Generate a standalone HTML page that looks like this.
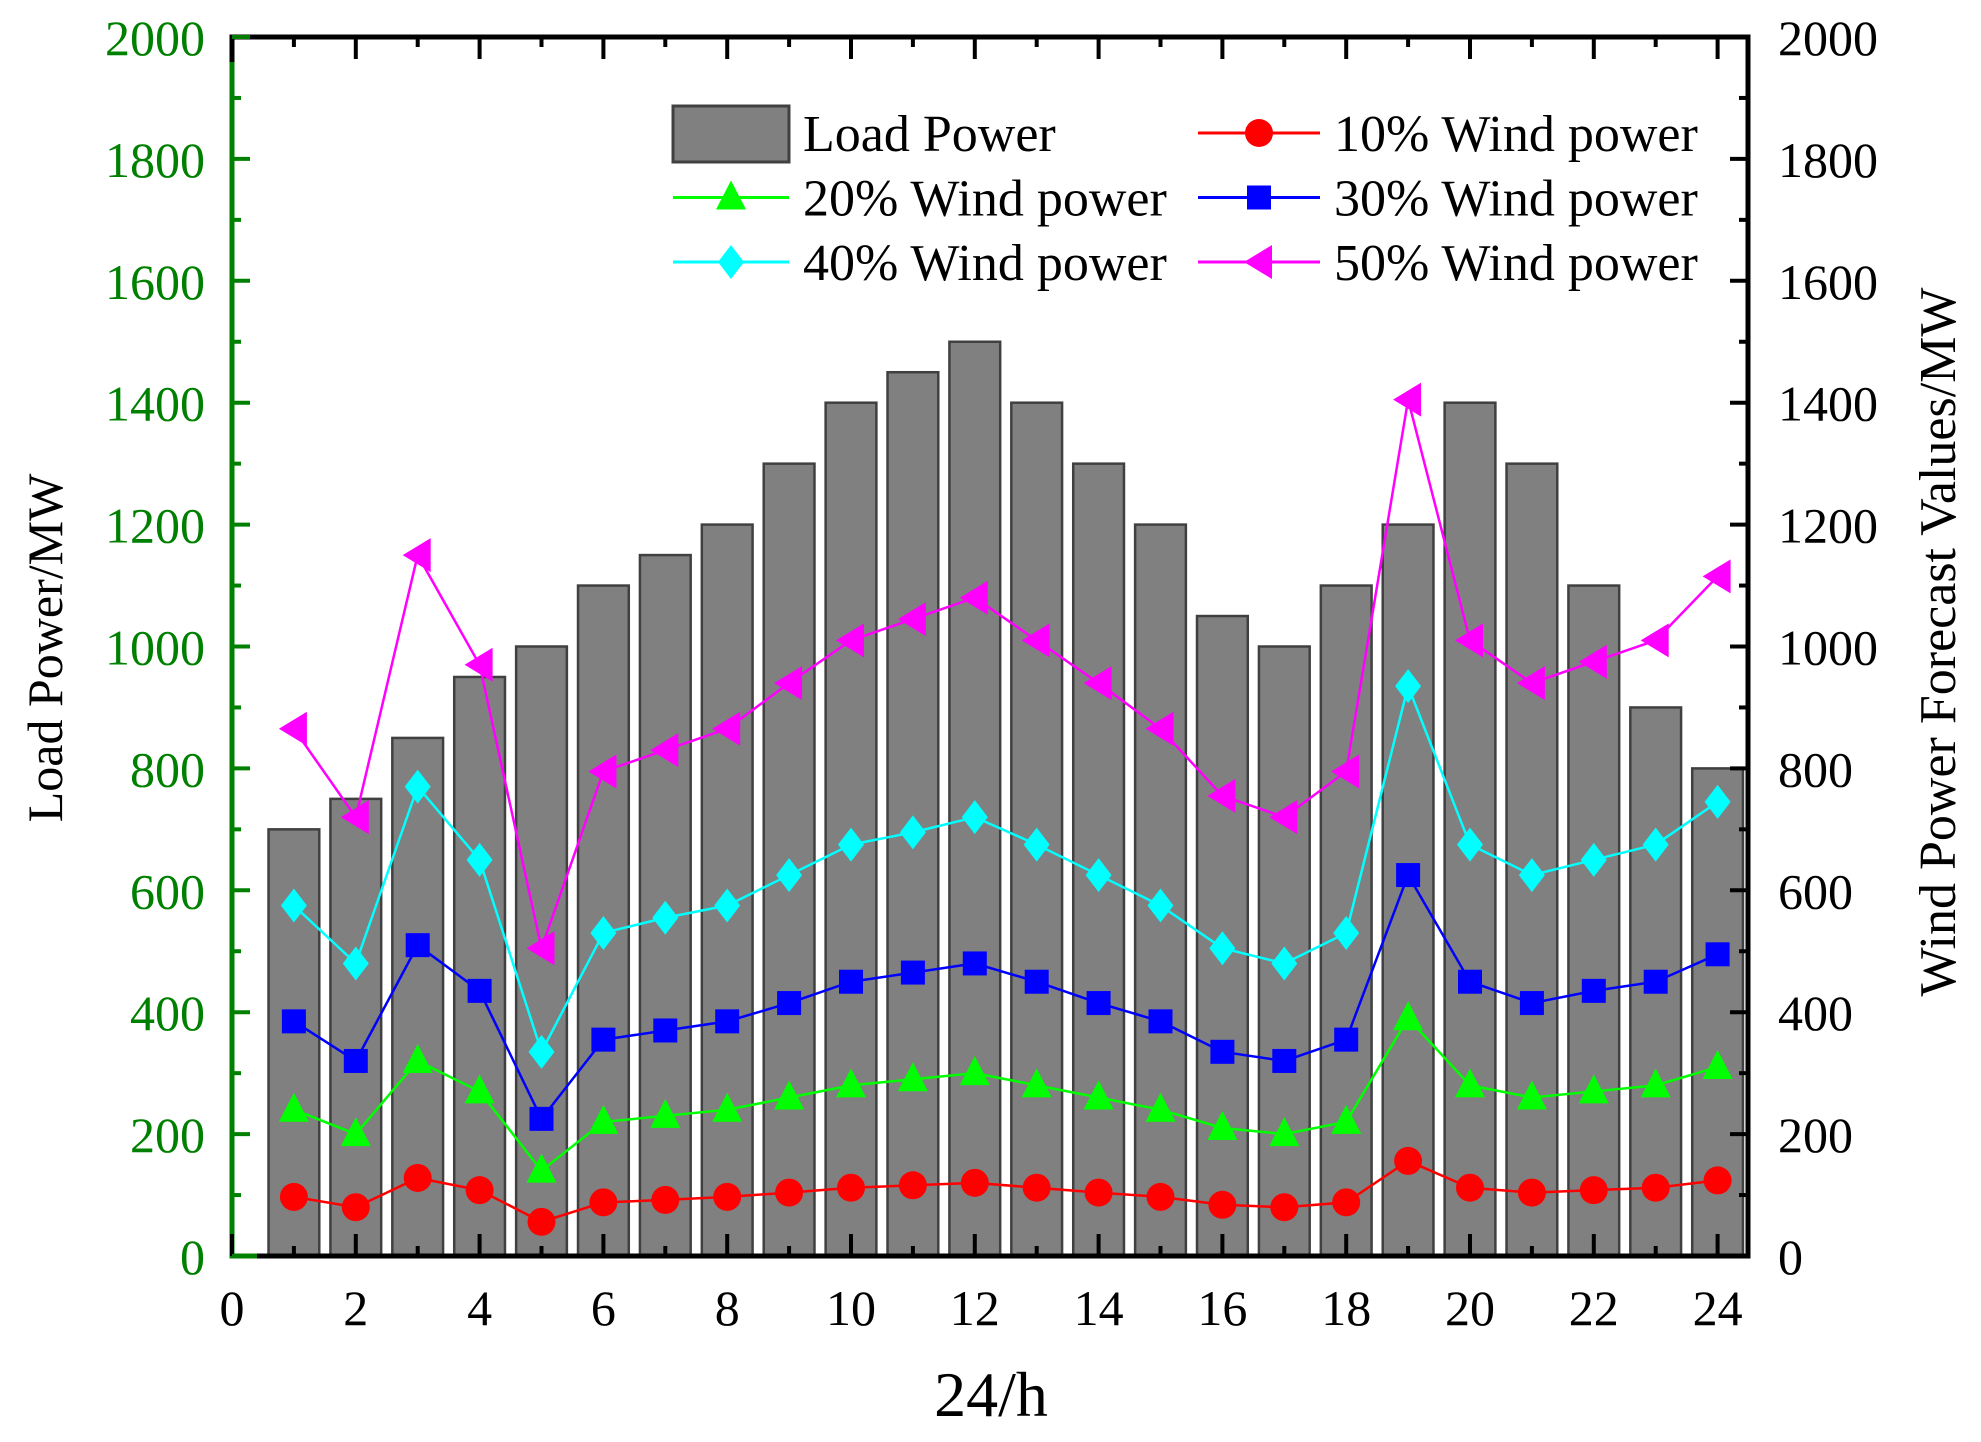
<!DOCTYPE html>
<html><head><meta charset="utf-8"><style>
html,body{margin:0;padding:0;background:#fff;}
svg{display:block;font-family:"Liberation Serif",serif;}
</style></head><body>
<svg id="chart" width="1981" height="1442" viewBox="0 0 1981 1442" xmlns="http://www.w3.org/2000/svg">
<g id="bars"></g>
<g id="series"></g>
<g id="axes"></g>
<g id="legend"></g>
<text transform="translate(62,648) rotate(-90)" text-anchor="middle" font-size="50">Load Power/MW</text>
<text transform="translate(1955,642) rotate(-90)" text-anchor="middle" font-size="52">Wind Power Forecast Values/MW</text>
<text x="991" y="1416" text-anchor="middle" font-size="64">24/h</text>
</svg>
<script>
const hours=[1,2,3,4,5,6,7,8,9,10,11,12,13,14,15,16,17,18,19,20,21,22,23,24];
const loadPower=[700,750,850,950,1000,1100,1150,1200,1300,1400,1450,1500,1400,1300,1200,1050,1000,1100,1200,1400,1300,1100,900,800];
const wind10=[97,80,128,108,56,88,92,97,104,112,116,120,112,104,97,84,80,88,156,112,104,108,112,124];
const wind20=[240,200,320,270,140,220,230,240,260,280,290,300,280,260,240,210,200,220,390,280,260,270,280,310];
const wind30=[385,320,510,435,225,355,370,385,415,450,465,480,450,415,385,335,320,355,625,450,415,435,450,495];
const wind40=[575,480,770,650,335,530,555,575,625,675,695,720,675,625,575,505,480,530,935,675,625,650,675,745];
const wind50=[865,720,1150,970,505,795,830,865,940,1010,1045,1080,1010,940,865,755,720,795,1405,1010,940,975,1010,1115];
const xTicks=[0,2,4,6,8,10,12,14,16,18,20,22,24];
const yTicks=[0,200,400,600,800,1000,1200,1400,1600,1800,2000];

const NS='http://www.w3.org/2000/svg';
const L=232,R=1748,T=37,B=1256;
const X=v=>L+v*61.9;
const Y=v=>B-(v/2000)*(B-T);
function mk(tag,attrs,parent){const e=document.createElementNS(NS,tag);for(const k in attrs)e.setAttribute(k,attrs[k]);parent.appendChild(e);return e;}

const bars=document.getElementById('bars');
hours.forEach((h,i)=>{
  const w=0.82*61.9;
  const r=mk('rect',{x:X(h)-w/2,y:Y(loadPower[i]),width:w,height:B-Y(loadPower[i]),fill:'#808080',stroke:'#404040','stroke-width':2.5},bars);
  
  
});

function marker(type,x,y,color,g){
  let e;
  if(type==='circle')e=mk('circle',{cx:x,cy:y,r:14,fill:color},g);
  else if(type==='square')e=mk('rect',{x:x-12,y:y-12,width:24,height:24,fill:color},g);
  else if(type==='tri')e=mk('polygon',{points:`${x},${y-17} ${x-15},${y+12} ${x+15},${y+12}`,fill:color},g);
  else if(type==='diamond')e=mk('polygon',{points:`${x},${y-17} ${x+13},${y} ${x},${y+17} ${x-13},${y}`,fill:color},g);
  else e=mk('polygon',{points:`${x-15},${y} ${x+13},${y-17} ${x+13},${y+17}`,fill:color},g);
  return e;
}
const seriesDefs=[[wind10,'#ff0000','circle','10'],[wind20,'#00ff00','tri','20'],[wind30,'#0000ff','square','30'],[wind40,'#00ffff','diamond','40'],[wind50,'#ff00ff','ltri','50']];
const sg=document.getElementById('series');
seriesDefs.forEach(([vals,color,type,name])=>{
  const g=mk('g',{},sg);
  
  
  const pl=mk('polyline',{points:vals.map((v,i)=>X(hours[i])+','+Y(v)).join(' '),fill:'none',stroke:color,'stroke-width':2.5},g);
  
  
  vals.forEach((v,i)=>{const m=marker(type,X(hours[i]),Y(v),color,g);
    
    });
});

const ax=document.getElementById('axes');
mk('line',{x1:L,y1:T,x2:R,y2:T,stroke:'#000','stroke-width':5},ax);
mk('line',{x1:R,y1:T-2.5,x2:R,y2:B+2.5,stroke:'#000','stroke-width':5},ax);
mk('line',{x1:L,y1:B,x2:R,y2:B,stroke:'#000','stroke-width':5},ax);
mk('line',{x1:L-2.5,y1:B,x2:257,y2:B,stroke:'#008000','stroke-width':5},ax);
mk('line',{x1:L,y1:T-2.5,x2:L,y2:62,stroke:'#000','stroke-width':5},ax);
mk('line',{x1:L,y1:62,x2:L,y2:B+2.5,stroke:'#008000','stroke-width':5},ax);
for(let v=0;v<=24;v++){
  const len=v%2===0?22:10;
  mk('line',{x1:X(v),y1:B,x2:X(v),y2:B-len,stroke:'#000','stroke-width':4},ax);
  mk('line',{x1:X(v),y1:T,x2:X(v),y2:T+len,stroke:'#000','stroke-width':4},ax);
}
xTicks.forEach(v=>{const t=mk('text',{x:X(v),y:1325,'text-anchor':'middle','font-size':50},ax);t.textContent=v;
  });
for(let v=0;v<=2000;v+=100){
  const len=v%200===0?18:9;
  mk('line',{x1:L,y1:Y(v),x2:L+len,y2:Y(v),stroke:'#008000','stroke-width':4},ax);
  mk('line',{x1:R,y1:Y(v),x2:R-len,y2:Y(v),stroke:'#000','stroke-width':4},ax);
}
yTicks.forEach(v=>{
  const a=mk('text',{x:205,y:Y(v)+18,'text-anchor':'end','font-size':50,fill:'#008000'},ax);a.textContent=v;
  
  const b=mk('text',{x:1778,y:Y(v)+18,'text-anchor':'start','font-size':50,fill:'#000'},ax);b.textContent=v;
  
});

const lg=document.getElementById('legend');
const sw=mk('rect',{x:673,y:106,width:116,height:56,fill:'#808080',stroke:'#404040','stroke-width':3},lg);

const lt=mk('text',{x:803,y:151,'font-size':52},lg);lt.textContent='Load Power';

const entries=[[1,0,'10% Wind power'],[0,1,'20% Wind power'],[1,1,'30% Wind power'],[0,2,'40% Wind power'],[1,2,'50% Wind power']];
entries.forEach(([c,r,label],i)=>{
  const [vals,color,type,name]=seriesDefs[i];
  const g=mk('g',{},lg);
  
  
  const x0=c?1198:673,x1=c?1320:789,cy=133+r*64.5,tx=c?1334:803;
  mk('line',{x1:x0,y1:cy,x2:x1,y2:cy,stroke:color,'stroke-width':3},g);
  marker(type,(x0+x1)/2,cy,color,g);
  const t=mk('text',{x:tx,y:cy+18,'font-size':52},g);t.textContent=label;
});
</script>
</body></html>
